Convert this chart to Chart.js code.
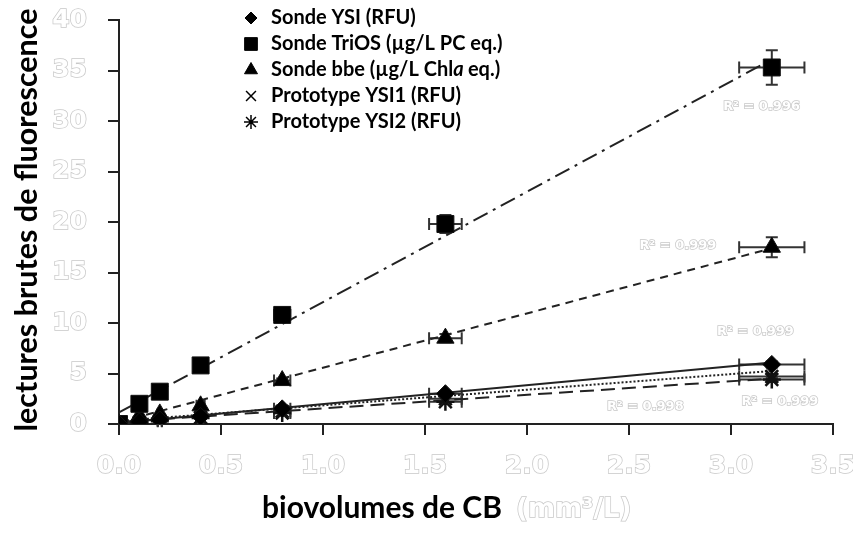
<!DOCTYPE html>
<html>
<head>
<meta charset="utf-8">
<script src="https://cdn.jsdelivr.net/npm/chart.js@4.4.1/dist/chart.umd.min.js"></script>
<style>
  html, body { margin: 0; padding: 0; background: #fff; }
</style>
</head>
<body>
<canvas id="grafico" width="853" height="535"></canvas>
<script>
// Biovolumes de CB (mm3/L) et incertitudes
const biovolumes = [0, 0.1, 0.2, 0.4, 0.8, 1.6, 3.2];
const errBiovol = [0, 0.005, 0.01, 0.02, 0.04, 0.08, 0.16];

// Lectures brutes de chaque capteur
const sondeYSI = [0, 0.2, 0.4, 0.75, 1.5, 3.0, 5.9];
const sondeTriOS = [0, 2.0, 3.2, 5.8, 10.8, 19.8, 35.3];
const sondeBbe = [0, 0.8, 1.0, 1.8, 4.3, 8.5, 17.5];
const protoYSI1 = [0, 0.15, 0.3, 0.65, 1.25, 2.5, 4.7];
const protoYSI2 = [0, 0.12, 0.28, 0.6, 1.1, 2.2, 4.4];

// Ecarts-types
const errYSI = [0, 0.01, 0.02, 0.04, 0.08, 0.15, 0.3];
const errTriOS = [0, 0.1, 0.16, 0.3, 0.5, 0.9, 1.7];
const errBbe = [0, 0.05, 0.05, 0.1, 0.2, 0.4, 1.0];
const errYSI1 = [0, 0.01, 0.02, 0.03, 0.06, 0.12, 0.25];
const errYSI2 = [0, 0.01, 0.02, 0.03, 0.06, 0.12, 0.25];

// Droites de régression (x = 0 et x = 3.2)
const regX = [0, 3.2];
const regYSI = [0.1, 6.1];
const regTriOS = [1.15, 36.1];
const regBbe = [0.2, 17.4];
const regYSI1 = [0.3, 5.25];
const regYSI2 = [0.2, 4.5];
const r2Textes = ['R² = 0.999', 'R² = 0.996', 'R² = 0.999', 'R² = 0.998', 'R² = 0.999'];

const xTicks = [0, 0.5, 1, 1.5, 2, 2.5, 3, 3.5];
const yTicks = [0, 5, 10, 15, 20, 25, 30, 35, 40];

const legendes = ['Sonde YSI (RFU)', 'Sonde TriOS (µg/L PC eq.)', 'Sonde bbe (µg/L Chla eq.)',
                  'Prototype YSI1 (RFU)', 'Prototype YSI2 (RFU)'];

const fontTitre = 'Lato, "Liberation Sans", sans-serif';
const fontChiffres = '"DejaVu Sans", sans-serif';
const contour = '#c8c8c8';

const pts = (ys) => biovolumes.map((x, i) => ({ x, y: ys[i] }));
const droite = (ys) => regX.map((x, i) => ({ x, y: ys[i] }));

const series = [
  { data: sondeYSI, err: errYSI, style: 'rectRot', radius: 9, leg: 6 },
  { data: sondeTriOS, err: errTriOS, style: 'rect', radius: 12, leg: 9 },
  { data: sondeBbe, err: errBbe, style: 'triangle', radius: 10, leg: 7.5 },
  { data: protoYSI1, err: errYSI1, style: 'crossRot', radius: 9, leg: 7 },
  { data: protoYSI2, err: errYSI2, style: 'star', radius: 9, leg: 7 }
];

const datasets = series.map((s, k) => ({
  label: legendes[k],
  data: pts(s.data),
  showLine: false,
  pointStyle: s.style,
  pointRadius: s.radius,
  backgroundColor: '#000',
  borderColor: '#111',
  borderWidth: (s.style === 'crossRot' || s.style === 'star') ? 2.5 : 1,
  order: 0
}));

const lignes = [
  { data: regYSI, dash: [] },
  { data: regTriOS, dash: [16, 6, 3, 6] },
  { data: regBbe, dash: [8, 6] },
  { data: regYSI1, dash: [2, 2] },
  { data: regYSI2, dash: [14, 7] }
];
lignes.forEach(l => datasets.push({
  data: droite(l.data),
  showLine: true,
  borderColor: '#222',
  borderWidth: 2,
  borderDash: l.dash,
  pointRadius: 0,
  order: 1
}));

// Barres d'erreur en x et en y
const barresErreur = {
  id: 'barresErreur',
  beforeDatasetsDraw(chart) {
    const { ctx, scales: { x, y } } = chart;
    ctx.save();
    ctx.strokeStyle = '#333';
    ctx.lineWidth = 2;
    series.forEach(s => {
      biovolumes.forEach((bv, i) => {
        const px = x.getPixelForValue(bv);
        const py = y.getPixelForValue(s.data[i]);
        const x0 = x.getPixelForValue(bv - errBiovol[i]);
        const x1 = x.getPixelForValue(bv + errBiovol[i]);
        if (x1 - x0 > 4) {
          ctx.beginPath();
          ctx.moveTo(x0, py); ctx.lineTo(x1, py);
          ctx.moveTo(x0, py - 6); ctx.lineTo(x0, py + 6);
          ctx.moveTo(x1, py - 6); ctx.lineTo(x1, py + 6);
          ctx.stroke();
        }
        const y0 = y.getPixelForValue(s.data[i] + s.err[i]);
        const y1 = y.getPixelForValue(s.data[i] - s.err[i]);
        if (y1 - y0 > 4) {
          ctx.beginPath();
          ctx.moveTo(px, y0); ctx.lineTo(px, y1);
          ctx.moveTo(px - 6, y0); ctx.lineTo(px + 6, y0);
          ctx.moveTo(px - 6, y1); ctx.lineTo(px + 6, y1);
          ctx.stroke();
        }
      });
    });
    ctx.restore();
  }
};

function texteContour(ctx, txt, x, y) {
  ctx.strokeStyle = contour;
  ctx.lineWidth = 1.5;
  ctx.strokeText(txt, x, y);
  ctx.fillStyle = '#fff';
  ctx.fillText(txt, x, y);
}

// Titres des axes, R2 et légende
const habillage = {
  id: 'habillage',
  afterDraw(chart) {
    const { ctx, scales: { x, y } } = chart;
    ctx.save();

    // titre axe y
    ctx.save();
    ctx.translate(27, 220);
    ctx.rotate(-Math.PI / 2);
    ctx.font = `bold 30.5px ${fontTitre}`;
    ctx.fillStyle = '#000';
    ctx.textAlign = 'center';
    ctx.textBaseline = 'middle';
    ctx.fillText('lectures brutes de fluorescence', 0, 0);
    ctx.restore();

    // titre axe x
    ctx.textBaseline = 'middle';
    ctx.textAlign = 'left';
    ctx.fillStyle = '#000';
    const t1 = 'biovolumes de CB ';
    const t2 = '(mm³/L)';
    ctx.font = `bold 30px ${fontTitre}`;
    ctx.fillText(t1, 262, 508);
    const w1 = ctx.measureText(t1).width;
    ctx.font = `bold 26px ${fontChiffres}`;
    texteContour(ctx, t2, Math.max(516, 262 + w1), 510);

    // coefficients de détermination
    const posR2 = [[3.12, 9.1], [3.15, 31.4], [2.74, 17.7], [2.58, 1.7], [3.24, 2.2]];
    ctx.font = `bold 13px ${fontChiffres}`;
    ctx.textAlign = 'center';
    r2Textes.forEach((t, k) => {
      texteContour(ctx, t, x.getPixelForValue(posR2[k][0]), y.getPixelForValue(posR2[k][1]));
    });

    // légende
    const lx = 251, ly = 18, pas = 26;
    series.forEach((s, k) => {
      const cy = ly + k * pas;
      ctx.fillStyle = '#000';
      ctx.strokeStyle = '#000';
      ctx.lineWidth = (s.style === 'crossRot' || s.style === 'star') ? 1.5 : 1;
      ctx.setLineDash([]);
      Chart.helpers.drawPoint(ctx, { pointStyle: s.style, radius: s.leg, rotation: 0,
        borderWidth: ctx.lineWidth }, lx, cy);
      ctx.fillStyle = '#000';
      ctx.textAlign = 'left';
      ctx.textBaseline = 'middle';
      ctx.font = `bold 20px ${fontTitre}`;
      if (k === 2) {
        const a = 'Sonde bbe (µg/L Chl';
        ctx.fillText(a, 271, cy);
        let wx = 271 + ctx.measureText(a).width;
        ctx.font = `italic bold 20px ${fontTitre}`;
        ctx.fillText('a', wx, cy);
        wx += ctx.measureText('a ').width;
        ctx.font = `bold 20px ${fontTitre}`;
        ctx.fillText('eq.)', wx, cy);
      } else {
        ctx.fillText(legendes[k], 271, cy);
      }
    });
    ctx.restore();
  }
};

const axeCommun = {
  border: { display: true, color: '#222', width: 2 },
  grid: { drawOnChartArea: false, drawTicks: true, tickLength: 11, color: '#222', lineWidth: 2 }
};

const policeTicks = { family: fontChiffres, weight: 'bold', size: 25 };

new Chart(document.getElementById('grafico'), {
  type: 'scatter',
  data: { datasets },
  options: {
    responsive: false,
    animation: false,
    layout: { padding: { top: 20, right: 20, left: 0, bottom: 0 } },
    plugins: { legend: { display: false }, tooltip: { enabled: false } },
    scales: {
      x: {
        ...axeCommun,
        type: 'linear', min: 0, max: 3.5,
        afterBuildTicks: s => { s.ticks = xTicks.map(v => ({ value: v })); },
        afterFit: s => { s.height = 111; s.paddingLeft = 0; s.paddingRight = 0; },
        ticks: {
          padding: 16, maxRotation: 0, autoSkip: false,
          color: '#fff', textStrokeColor: contour, textStrokeWidth: 1.5,
          font: policeTicks,
          callback: v => v.toFixed(1)
        }
      },
      y: {
        ...axeCommun,
        min: 0, max: 40,
        afterBuildTicks: s => { s.ticks = yTicks.map(v => ({ value: v })); },
        afterFit: s => { s.width = 119; s.paddingTop = 0; s.paddingBottom = 0; },
        ticks: {
          padding: 21, autoSkip: false,
          color: '#fff', textStrokeColor: contour, textStrokeWidth: 1.5,
          font: policeTicks
        }
      }
    }
  },
  plugins: [barresErreur, habillage]
});
</script>
</body>
</html>
